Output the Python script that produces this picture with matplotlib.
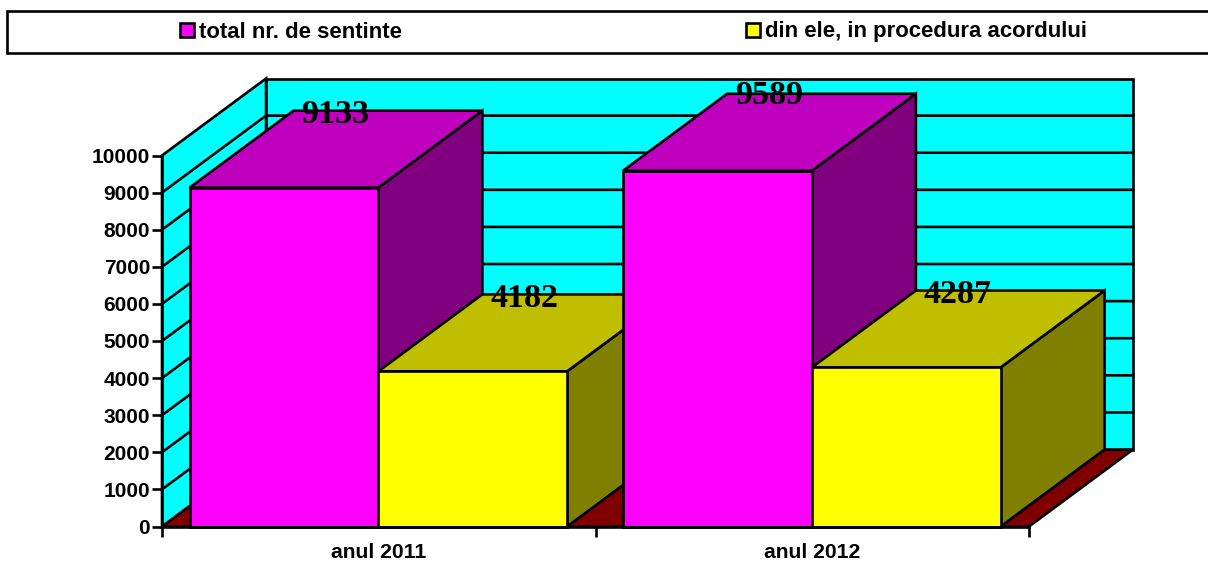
import matplotlib
matplotlib.use("Agg")
import matplotlib.pyplot as plt
from matplotlib.patches import Polygon, Rectangle

plt.rcParams['font.family'] = ['Liberation Sans', 'DejaVu Sans']

# data
years = ["anul 2011", "anul 2012"]
series_names = ["total nr. de sentinte", "din ele, in procedura acordului"]
total = [9133, 9589]
acord = [4182, 4287]
yticks = list(range(0, 11000, 1000))

W, H = 1208, 562
YMAX = 10000
DX = 0.24    # depth of the fake 3d box, x units
DY = 2075    # depth of the fake 3d box, y units
BAR = 0.4355
GAP = 0.0635
LW = 1.9

fig = plt.figure(figsize=(W / 100, H / 100), dpi=100)
ax = fig.add_axes([162 / W, 1 - 526.5 / H, (1029 - 162) / W, 371 / H])
ax.set_xlim(0, 2)
ax.set_ylim(0, YMAX)
ax.patch.set_visible(False)


def poly(pts, color, z=1):
    ax.add_patch(Polygon(pts, closed=True, facecolor=color, edgecolor='black',
                         linewidth=LW, joinstyle='miter', clip_on=False, zorder=z))


#===============================================================================
def drawBox():
    # side wall, back wall, floor
    poly([(0, 0), (DX, DY), (DX, YMAX + DY), (0, YMAX)], '#00FFFF')
    poly([(DX, DY), (2 + DX, DY), (2 + DX, YMAX + DY), (DX, YMAX + DY)], '#00FFFF')
    poly([(0, 0), (2, 0), (2 + DX, DY), (DX, DY)], '#800000')
    for v in yticks[1:-1]:
        ax.plot([0, DX, 2 + DX], [v, v + DY, v + DY], color='black', lw=LW,
                clip_on=False, zorder=1.5, solid_joinstyle='miter')
#===============================================================================


#===============================================================================
def drawBar(x, v, front, top, side):
    poly([(x + BAR, 0), (x + BAR + DX, DY), (x + BAR + DX, v + DY), (x + BAR, v)], side, 2)
    poly([(x, v), (x + BAR, v), (x + BAR + DX, v + DY), (x + DX, v + DY)], top, 2)
    poly([(x, 0), (x + BAR, 0), (x + BAR, v), (x, v)], front, 2)
#===============================================================================


drawBox()
for i in range(len(years)):
    drawBar(i + GAP, total[i], '#FF00FF', '#BF00BF', '#800080')
    drawBar(i + GAP + BAR, acord[i], '#FFFF00', '#BFBF00', '#808000')

# labels go on top of everything, at the rear edge of the bar top
for i in range(len(years)):
    for j, v in enumerate([total[i], acord[i]]):
        # the tallest label sits a bit higher in the original
        off = -1 if v == max(total) else -3
        ax.annotate(str(v), (i + GAP + BAR * j + BAR / 2 + DX / 2, v + DY),
                    xytext=(-0.5, off), textcoords='offset points',
                    family=['Liberation Serif', 'DejaVu Serif'], fontweight='bold',
                    fontsize=24.5, ha='center', va='center', color='black',
                    annotation_clip=False, zorder=5)

ax.set_yticks(yticks)
ax.set_yticklabels([str(v) for v in yticks], fontsize=15, fontweight='bold')
ax.set_xticks([0, 1, 2])
ax.set_xticklabels([])
ax.set_xticks([0.5, 1.5], minor=True)
ax.set_xticklabels(years, minor=True, fontsize=15.2, fontweight='bold')
ax.tick_params(axis='y', length=7, width=LW, pad=1.5)
ax.tick_params(axis='x', which='major', length=7, width=LW)
ax.tick_params(axis='x', which='minor', length=0, pad=12)
for s in ['top', 'right']:
    ax.spines[s].set_visible(False)
for s in ['left', 'bottom']:
    ax.spines[s].set_linewidth(LW)
    ax.spines[s].set_zorder(3)

# legend strip
fig.add_artist(Rectangle((7 / W, 1 - 53 / H), (W + 10 - 7) / W, 42 / H, transform=fig.transFigure,
                         facecolor='white', edgecolor='black', linewidth=LW))
for name, color, xpos in zip(series_names, ['#FF00FF', '#FFFF00'], [180, 746]):
    fig.add_artist(Rectangle((xpos / W, 1 - 37 / H), 14 / W, 14 / H, transform=fig.transFigure,
                             facecolor=color, edgecolor='black', linewidth=LW))
    fig.text((xpos + 19) / W, 1 - 37.5 / H, name, fontsize=15.9, fontweight='bold',
             ha='left', va='baseline')

fig.savefig("out.png", dpi=100)
